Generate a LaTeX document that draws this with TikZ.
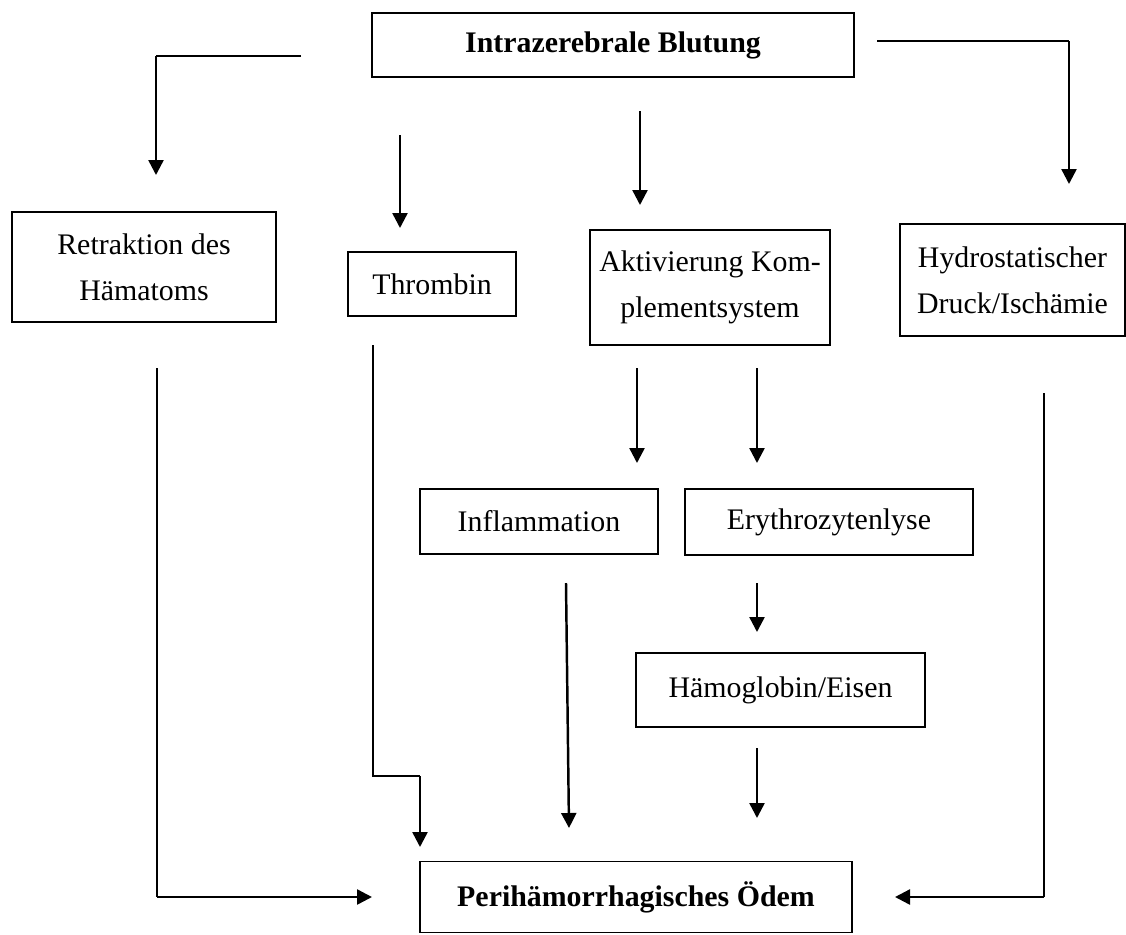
\documentclass[tikz,border=0pt]{standalone}
\usepackage{fontspec}
\setmainfont{Liberation Serif}
\usetikzlibrary{arrows.meta, positioning}
\tikzset{
  box/.style={
    rectangle,
    draw,
    line width=1.1pt,
    align=center,
    inner sep=0pt,
    font=\fontsize{17}{26}\selectfont
  },
  boldbox/.style={
    box,
    font=\fontsize{17}{26}\selectfont\bfseries
  },
  arrow/.style={-{Triangle[length=3mm, width=3mm]}, line width=1.4pt},
  thinline/.style={line width=0.6pt}
}

\begin{document}
\begin{tikzpicture}[x=0.02cm, y=-0.02cm]
  \useasboundingbox (0,0) rectangle (1126,934);

  \node[boldbox, minimum width=9.64cm, minimum height=1.28cm] (icb) at (613,45) {Intrazerebrale Blutung};
  \node[box, minimum width=5.28cm, minimum height=2.2cm] (retr) at (144,267) {Retraktion des\\Hämatoms};
  \node[box, minimum width=3.36cm, minimum height=1.28cm] (thr) at (432,284) {Thrombin};
  \node[box, minimum width=4.8cm, minimum height=2.3cm] (akt) at (710,287.5) {Aktivierung Kom-\\plementsystem};
  \node[box, minimum width=4.5cm, minimum height=2.24cm] (hyd) at (1012.5,280) {Hydrostatischer\\Druck/Ischämie};
  \node[box, minimum width=4.76cm, minimum height=1.3cm] (infl) at (539,521.5) {Inflammation};
  \node[box, minimum width=5.76cm, minimum height=1.32cm] (ery) at (829,522) {Erythrozytenlyse};
  \node[box, minimum width=5.78cm, minimum height=1.48cm] (hb) at (780.5,690) {Hämoglobin/Eisen};
  \node[boldbox, minimum width=8.64cm, minimum height=1.42cm] (ode) at (636,897) {Perihämorrhagisches Ödem};

  % free ends of the connectors
  \coordinate (icbL) at (301,56);
  \coordinate (icbLc) at (156,56);
  \coordinate (retrIn) at (156,175);
  \coordinate (icbR) at (877,41);
  \coordinate (icbRc) at (1069,41);
  \coordinate (hydIn) at (1069,184);
  \coordinate (thrOut) at (400,135);
  \coordinate (thrIn) at (400,228);
  \coordinate (aktOut) at (640,111);
  \coordinate (aktIn) at (640,205);
  \coordinate (inflOut) at (637,368);
  \coordinate (inflIn) at (637,463);
  \coordinate (eryOut) at (757,368);
  \coordinate (eryIn) at (757,463);
  \coordinate (hbOut) at (757,583);
  \coordinate (hbIn) at (757,632);
  \coordinate (odeA) at (757,748);
  \coordinate (odeB) at (757,818);
  \coordinate (odeC) at (566,583);
  \coordinate (odeD) at (569,828);
  \coordinate (thrL) at (373,345);
  \coordinate (thrLc) at (373,776);
  \coordinate (thrLd) at (420,776);
  \coordinate (odeE) at (420,847);
  \coordinate (retrL) at (157,368);
  \coordinate (retrLc) at (157,897);
  \coordinate (odeF) at (372,897);
  \coordinate (hydL) at (1044,393);
  \coordinate (hydLc) at (1044,897);
  \coordinate (odeG) at (895,897);

  \draw[thinline] (icbL) -- (icbLc);
  \draw[arrow] (icbLc) -- (retrIn);
  \draw[thinline] (icbR) -- (icbRc);
  \draw[arrow] (icbRc) -- (hydIn);
  \draw[arrow] (thrOut) -- (thrIn);
  \draw[arrow] (aktOut) -- (aktIn);
  \draw[arrow] (inflOut) -- (inflIn);
  \draw[arrow] (eryOut) -- (eryIn);
  \draw[arrow] (hbOut) -- (hbIn);
  \draw[arrow] (odeA) -- (odeB);
  \draw[arrow] (odeC) -- (odeD);
  \draw[thinline] (thrL) -- (thrLc) -- (thrLd);
  \draw[arrow] (thrLd) -- (odeE);
  \draw[thinline] (retrL) -- (retrLc);
  \draw[arrow] (retrLc) -- (odeF);
  \draw[thinline] (hydL) -- (hydLc);
  \draw[arrow] (hydLc) -- (odeG);
\end{tikzpicture}
\end{document}
